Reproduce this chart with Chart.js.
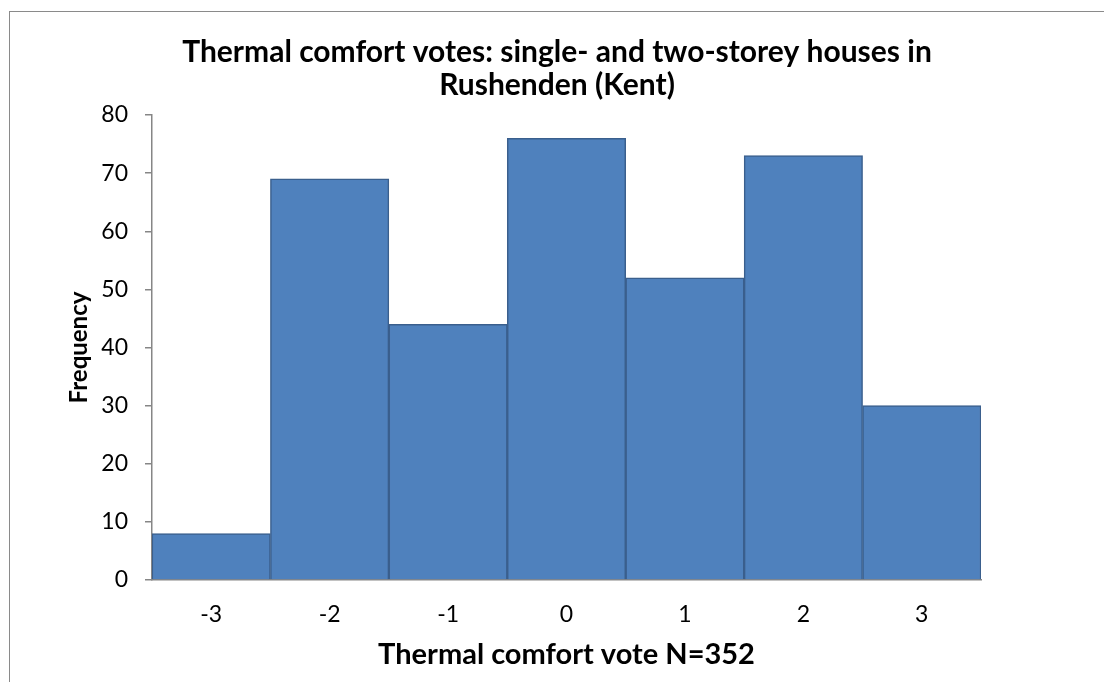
<!DOCTYPE html>
<html>
<head>
<meta charset="utf-8">
<title>Thermal comfort votes</title>
<script src="https://cdn.jsdelivr.net/npm/chart.js@4.4.1/dist/chart.umd.min.js"></script>
<style>
  html, body { margin: 0; padding: 0; background: #fff; overflow: hidden; }
  #wrap { position: relative; width: 1104px; height: 682px; }
  #frame { position: absolute; left: 9px; top: 11px; width: 1300px; height: 900px; border: 1.5px solid #8a8a8a; }
  #myChart { position: absolute; left: 0; top: 0; }
</style>
</head>
<body>
<div id="wrap">
  <div id="frame"></div>
  <canvas id="myChart" width="1104" height="682"></canvas>
</div>
<script>
// dane z wykresu
var votes = ["-3", "-2", "-1", "0", "1", "2", "3"];
var frequency = [8, 69, 44, 76, 52, 73, 30];
var yTicks = [0, 10, 20, 30, 40, 50, 60, 70, 80];
var chartTitle = ["Thermal comfort votes: single- and two-storey houses in", "Rushenden (Kent)"];
var xTitle = "Thermal comfort vote N=352";
var yTitle = "Frequency";

var axisGray = '#868686';
var fontName = 'Lato';

var ctx = document.getElementById("myChart").getContext('2d');
var histogram = new Chart(ctx, {
    type: 'bar',
    data: {
        labels: votes,
        datasets: [{
            label: yTitle,
            data: frequency,
            backgroundColor: '#4F81BD',
            borderColor: '#3A5F8D',
            borderWidth: 1.5,
            categoryPercentage: 1.0,
            barPercentage: 1.0
        }]
    },
    options: {
        responsive: false,
        animation: false,
        layout: { padding: { top: 0, left: 10, right: 0, bottom: 0 } },
        plugins: {
            legend: { display: false },
            tooltip: { enabled: false },
            title: {
                display: true,
                text: chartTitle,
                color: '#000',
                font: { family: fontName, size: 30, weight: 'bold', lineHeight: '33px' },
                padding: { top: 36, bottom: 13 }
            }
        },
        scales: {
            x: {
                grid: { display: false, drawTicks: false },
                border: { display: true, color: axisGray, width: 1.5 },
                ticks: {
                    color: '#000',
                    font: { family: fontName, size: 23 },
                    padding: 21,
                    maxRotation: 0
                },
                title: {
                    display: true,
                    text: xTitle,
                    color: '#000',
                    font: { family: fontName, size: 29, weight: 'bold' },
                    padding: { top: 0, bottom: 10 }
                },
                afterFit: function(scale) { scale.height = 102; }
            },
            y: {
                min: 0,
                max: 80,
                afterBuildTicks: function(scale) {
                    scale.ticks = yTicks.map(function(v) { return { value: v }; });
                },
                grid: {
                    display: true,
                    drawOnChartArea: false,
                    drawTicks: true,
                    tickLength: 7,
                    color: axisGray,
                    lineWidth: 1.5
                },
                border: { display: true, color: axisGray, width: 1.5 },
                ticks: {
                    color: '#000',
                    font: { family: fontName, size: 23 },
                    padding: 17
                },
                title: {
                    display: true,
                    text: yTitle,
                    color: '#000',
                    font: { family: fontName, size: 24, weight: 'bold' },
                    padding: { top: 55, bottom: 0 }
                },
                afterFit: function(scale) { scale.width = 142; }
            },
            // pusta os po prawej - tylko zeby zostawic miejsce za wykresem
            yRight: {
                position: 'right',
                display: true,
                min: 0,
                max: 80,
                grid: { display: false, drawTicks: false },
                border: { display: false },
                ticks: { display: false },
                afterFit: function(scale) { scale.width = 123; }
            }
        }
    }
});
</script>
</body>
</html>
